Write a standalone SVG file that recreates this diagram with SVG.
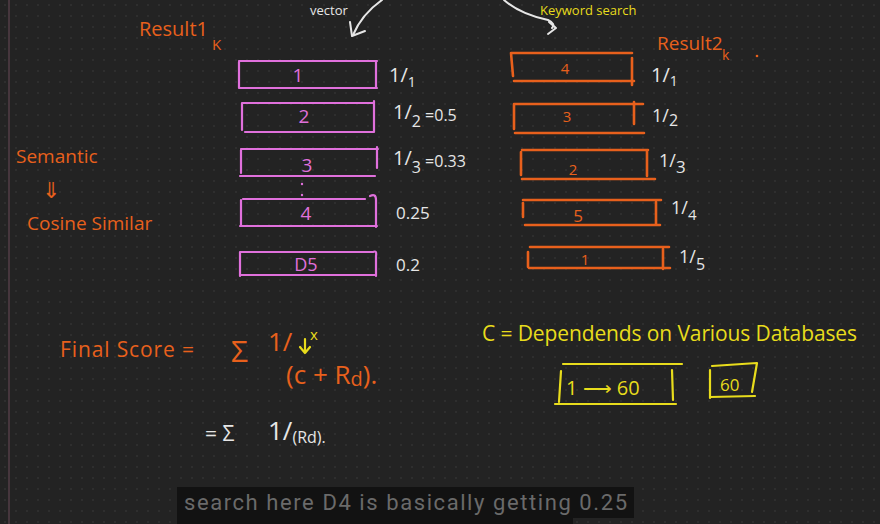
<svg xmlns="http://www.w3.org/2000/svg" width="880" height="524" viewBox="0 0 880 524">
<defs>
<pattern id="grid" width="11" height="11" patternUnits="userSpaceOnUse">
<circle cx="5" cy="5" r="0.8" fill="#3b3b3b"/>
</pattern>
<style>
.t{font-family:"Open Sans","Liberation Sans",sans-serif;font-weight:400}
.or{fill:#e8601c}
.pk{fill:#e070dc}
.wh{fill:#e6e6e6}
.ye{fill:#e8dc1c}
.sor{stroke:#e8601c;stroke-width:2.6;fill:none;stroke-linecap:round}
.spk{stroke:#e070dc;stroke-width:2.2;fill:none;stroke-linecap:round}
.swh{stroke:#e6e6e6;stroke-width:2;fill:none;stroke-linecap:round;stroke-linejoin:round}
.sye{stroke:#e8dc1c;stroke-width:2.2;fill:none;stroke-linecap:round;stroke-linejoin:round}
</style>
</defs>
<rect width="880" height="524" fill="#232323"/>
<rect width="880" height="524" fill="url(#grid)"/>
<line x1="9" y1="0" x2="9" y2="524" stroke="#6a4a58" stroke-width="1"/>

<g id="top-labels">
<text class="t wh" x="310" y="15" font-size="13">vector</text>
<text class="t ye" x="540" y="15" font-size="13">Keyword search</text>
</g>

<g id="connectors">
<path class="swh" d="M382 0 Q362 14 353 35"/>
<path class="swh" d="M350 22 L352 36 L365 31"/>
<path class="swh" d="M504 0 Q520 14 548 20 Q556 24 552 28"/>
<path class="swh" d="M549 22 L556 28 L548 34"/>
</g>

<g id="result1-title">
<text class="t or" x="139" y="36" font-size="20">Result1</text>
<text class="t or" x="212" y="50" font-size="15">K</text>
</g>

<g id="result2-title">
<text class="t or" x="657" y="50" font-size="19">Result2</text>
<text class="t or" x="722" y="60" font-size="14">k</text>
<circle cx="757" cy="56" r="1.3" fill="#e8601c"/>
</g>

<g id="semantic">
<text class="t or" x="16" y="163" font-size="19">Semantic</text>
<text class="t or" x="42" y="198" font-size="22">⇓</text>
<text class="t or" x="27" y="230" font-size="19">Cosine Similar</text>
</g>

<g id="r1-d1">
<path class="spk" d="M239 61 H377 M376 61 V88 M239 62 V88 M239 88 H377"/>
<text class="t pk" x="298" y="82" font-size="19" text-anchor="middle">1</text>
<text class="t wh" x="389" y="82" font-size="20">1/<tspan font-size="14" dy="5">1</tspan></text>
</g>
<g id="r1-d2">
<path class="spk" d="M242 103 H374 M374 101 V132 M242 103 V130 M245 132 H373"/>
<text class="t pk" x="304" y="123" font-size="19" text-anchor="middle">2</text>
<text class="t wh" x="393" y="119" font-size="20">1/<tspan font-size="16" dy="8">2</tspan><tspan font-size="16" dy="-6"> =0.5</tspan></text>
</g>
<g id="r1-d3">
<path class="spk" d="M241 149 H378 M377 147 V168 M241 150 V173 M240 176 H375"/>
<text class="t pk" x="307" y="172" font-size="19" text-anchor="middle">3</text>
<circle cx="302" cy="184" r="1.2" fill="#e070dc"/>
<circle cx="302" cy="195" r="1.2" fill="#e070dc"/>
<text class="t wh" x="393" y="165" font-size="20">1/<tspan font-size="16" dy="8">3</tspan><tspan font-size="16" dy="-6"> =0.33</tspan></text>
</g>
<g id="r1-d4">
<path class="spk" d="M243 199 H365 M370 196 Q376 193 376 200 V227 M241 200 V226 M240 226 H377"/>
<text class="t pk" x="306" y="220" font-size="19" text-anchor="middle">4</text>
<text class="t wh" x="396" y="219" font-size="17">0.25</text>
</g>
<g id="r1-d5">
<path class="spk" d="M240 252 H373 Q377 250 376 256 V276 M240 252 V276 M240 275 H376"/>
<text class="t pk" x="306" y="271" font-size="18" text-anchor="middle">D5</text>
<text class="t wh" x="396" y="271" font-size="17">0.2</text>
</g>

<g id="r2-d4">
<path class="sor" d="M511 53 H632 M511 53 L513 76 M632 58 V85 M514 81 H634"/>
<text class="t or" x="565" y="74" font-size="15" text-anchor="middle">4</text>
<text class="t wh" x="651" y="82" font-size="20">1/<tspan font-size="14" dy="4">1</tspan></text>
</g>
<g id="r2-d3">
<path class="sor" d="M514 104 H643 M514 104 V129 M634 102 V124 M515 133 H644"/>
<text class="t or" x="567" y="122" font-size="15" text-anchor="middle">3</text>
<text class="t wh" x="652" y="122" font-size="18">1/<tspan font-size="16" dy="4">2</tspan></text>
</g>
<g id="r2-d2">
<path class="sor" d="M522 150 H648 M521 152 V175 M647 150 V176 M522 179 H655"/>
<text class="t or" x="573" y="175" font-size="15" text-anchor="middle">2</text>
<text class="t wh" x="659" y="167" font-size="18">1/<tspan font-size="17" dy="6">3</tspan></text>
</g>
<g id="r2-d5">
<path class="sor" d="M523 200 H661 M523 203 V217 M656 202 V225 M525 225 H660"/>
<text class="t or" x="578" y="222" font-size="17" text-anchor="middle">5</text>
<text class="t wh" x="671" y="214" font-size="18">1/<tspan font-size="15" dy="6">4</tspan></text>
</g>
<g id="r2-d1">
<path class="sor" d="M530 247 H669 M528 252 V267 M663 249 V269 M529 268 H670"/>
<text class="t or" x="585" y="265" font-size="15" text-anchor="middle">1</text>
<text class="t wh" x="679" y="263" font-size="18">1/<tspan font-size="16" dy="7">5</tspan></text>
</g>

<g id="final-score">
<text class="t or" x="60" y="357" font-size="21" textLength="134">Final Score =</text>
<text class="t or" x="231" y="362" font-size="30">Σ</text>
<text class="t or" x="268" y="351" font-size="26">1/</text>
<text class="t or" x="286" y="384" font-size="26">(c + R<tspan font-size="20" dy="2">d</tspan><tspan dy="-2">).</tspan></text>
<text class="t ye" x="310" y="340" font-size="15">x</text>
<path class="sye" d="M305 339 V353 M300 347 L305 353 L310 347" stroke-width="1.8"/>
</g>

<g id="final-score-simplified">
<text class="t wh" x="205" y="441" font-size="21">= Σ</text>
<text class="t wh" x="268" y="440" font-size="26">1/<tspan font-size="16" dy="3">(Rd)</tspan><tspan font-size="16">.</tspan></text>
</g>

<g id="c-note">
<text class="t ye" x="482" y="341" font-size="21" textLength="375">C = Dependends on Various Databases</text>
</g>
<g id="c-range">
<path class="sye" d="M563 364 H682 M561 371 L559 402 M672 370 L673 400 M555 404 H676"/>
<text class="t ye" x="566" y="395" font-size="20">1 ⟶ 60</text>
</g>
<g id="c-60">
<path class="sye" d="M710 370 V398 M712 366 L757 363 L752 392 M710 397 L755 396"/>
<text class="t ye" x="720" y="391" font-size="17">60</text>
</g>

<g id="subtitle">
<rect x="177" y="487" width="457" height="31" fill="#121212"/>
<rect x="177" y="518" width="396" height="6" fill="#121212"/>
<text x="184" y="510" font-family="Roboto,'Liberation Sans',sans-serif" font-size="22" fill="#6a6a6a" textLength="443">search here D4 is basically getting 0.25</text>
</g>
</svg>
